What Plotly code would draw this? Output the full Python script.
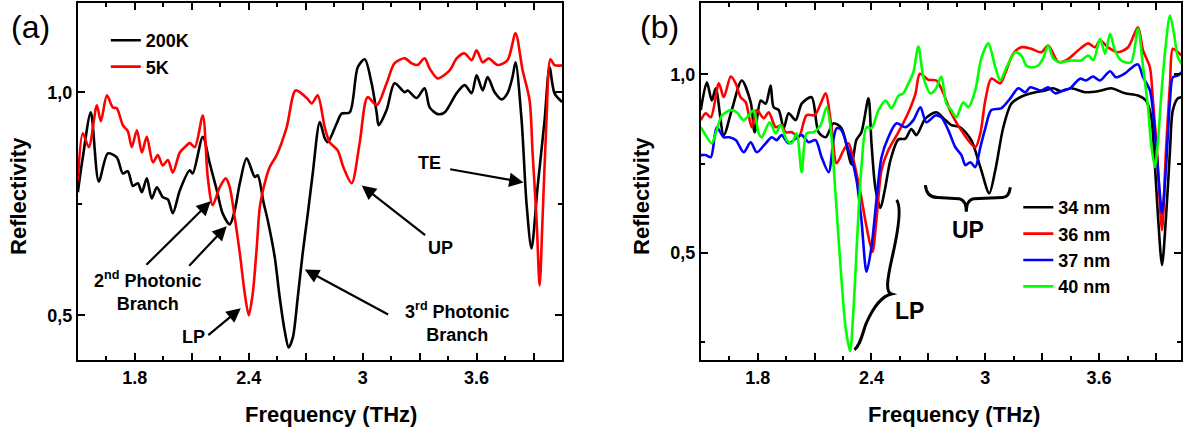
import numpy as np
import plotly.graph_objects as go

# ---------------- Panel (a) data ----------------
freq_a_200K = [1.50, 1.526, 1.568, 1.61, 1.658, 1.705, 1.737, 1.763, 1.79, 1.816, 1.837, 1.863, 1.889, 1.916,
               1.947, 1.974, 2.0, 2.037, 2.089, 2.105, 2.158, 2.195, 2.232, 2.263, 2.30, 2.326, 2.353, 2.389,
               2.432, 2.447, 2.479, 2.50, 2.537, 2.563, 2.589, 2.61, 2.632, 2.658, 2.684, 2.711, 2.737, 2.774,
               2.80, 2.816, 2.863, 2.889, 2.932, 2.974, 3.011, 3.047, 3.074, 3.084, 3.126, 3.168, 3.221, 3.237,
               3.284, 3.326, 3.353, 3.395, 3.432, 3.495, 3.537, 3.574, 3.60, 3.632, 3.658, 3.695, 3.732, 3.763,
               3.789, 3.805, 3.837, 3.863, 3.889, 3.921, 3.958, 3.984, 4.01, 4.05]
refl_a_200K = [0.776, 0.854, 0.955, 0.80, 0.863, 0.854, 0.818, 0.823, 0.79, 0.796, 0.776, 0.807, 0.762, 0.787,
               0.765, 0.76, 0.729, 0.78, 0.825, 0.818, 0.90, 0.84, 0.78, 0.728, 0.704, 0.735, 0.796, 0.852,
               0.81, 0.814, 0.751, 0.713, 0.63, 0.54, 0.466, 0.428, 0.45, 0.54, 0.639, 0.728, 0.818, 0.933,
               0.897, 0.888, 0.93, 0.952, 0.955, 1.056, 1.074, 1.02, 0.953, 0.926, 0.96, 1.02, 1.0, 1.004,
               0.987, 1.009, 0.966, 0.951, 0.955, 0.998, 1.016, 0.998, 1.038, 1.004, 1.034, 1.0, 0.984, 0.998,
               1.034, 1.067, 0.937, 0.75, 0.65, 0.787, 0.937, 1.056, 0.998, 0.978]

freq_a_5K = [1.50, 1.526, 1.558, 1.60, 1.621, 1.653, 1.684, 1.705, 1.737, 1.763, 1.784, 1.811, 1.837, 1.863,
             1.895, 1.921, 1.947, 1.974, 2.0, 2.037, 2.063, 2.089, 2.116, 2.158, 2.184, 2.21, 2.247, 2.279,
             2.30, 2.326, 2.353, 2.379, 2.40, 2.421, 2.442, 2.458, 2.484, 2.51, 2.547, 2.60, 2.647, 2.705,
             2.732, 2.763, 2.80, 2.826, 2.868, 2.90, 2.942, 2.984, 3.026, 3.074, 3.126, 3.168, 3.221, 3.258,
             3.289, 3.326, 3.353, 3.395, 3.458, 3.495, 3.537, 3.574, 3.60, 3.632, 3.663, 3.711, 3.763, 3.805,
             3.842, 3.879, 3.895, 3.916, 3.932, 3.947, 3.968, 3.989, 4.01, 4.05]
refl_a_5K = [0.80, 0.908, 0.877, 0.971, 0.935, 0.993, 0.966, 0.964, 0.926, 0.913, 0.877, 0.915, 0.865, 0.90,
             0.843, 0.859, 0.836, 0.848, 0.82, 0.865, 0.877, 0.886, 0.877, 0.948, 0.81, 0.747, 0.787, 0.807,
             0.787, 0.72, 0.639, 0.549, 0.50, 0.549, 0.652, 0.742, 0.796, 0.832, 0.859, 0.922, 1.004, 0.987,
             0.975, 0.993, 0.922, 0.888, 0.87, 0.83, 0.796, 0.886, 0.989, 0.971, 1.02, 1.065, 1.076, 1.065,
             1.061, 1.076, 1.053, 1.031, 1.049, 1.076, 1.087, 1.072, 1.094, 1.067, 1.076, 1.061, 1.072, 1.132,
             1.05, 0.982, 0.863, 0.713, 0.567, 0.713, 0.937, 1.074, 1.061, 1.06]

# ---------------- Panel (b) data ----------------
freq_b_34 = [1.50, 1.532, 1.558, 1.579, 1.621, 1.663, 1.716, 1.763, 1.784, 1.816, 1.842, 1.868, 1.884, 1.911,
             1.937, 1.963, 2.0, 2.032, 2.084, 2.121, 2.158, 2.20, 2.242, 2.295, 2.32, 2.347, 2.384, 2.40, 2.42,
             2.447, 2.47, 2.50, 2.542, 2.579, 2.61, 2.637, 2.684, 2.742, 2.789, 2.821, 2.868, 2.926, 2.974,
             3.021, 3.053, 3.095, 3.137, 3.184, 3.242, 3.316, 3.358, 3.40, 3.453, 3.526, 3.595, 3.663, 3.737,
             3.805, 3.847, 3.874, 3.895, 3.911, 3.932, 3.953, 3.974, 3.989, 4.016, 4.035]
refl_b_34 = [0.90, 0.978, 0.927, 0.961, 0.83, 0.90, 0.983, 0.922, 0.838, 0.927, 0.918, 0.969, 0.908, 0.90,
             0.849, 0.891, 0.872, 0.918, 0.936, 0.838, 0.824, 0.863, 0.849, 0.748, 0.816, 0.838, 0.933, 0.807,
             0.684, 0.626, 0.676, 0.76, 0.818, 0.82, 0.847, 0.83, 0.876, 0.894, 0.872, 0.858, 0.852, 0.816,
             0.74, 0.667, 0.732, 0.852, 0.918, 0.936, 0.947, 0.955, 0.961, 0.953, 0.961, 0.95, 0.953, 0.961,
             0.947, 0.941, 0.927, 0.885, 0.74, 0.60, 0.466, 0.60, 0.788, 0.90, 0.933, 0.936]

freq_b_36 = [1.50, 1.526, 1.553, 1.595, 1.621, 1.658, 1.684, 1.71, 1.737, 1.768, 1.795, 1.832, 1.858, 1.895,
             1.926, 1.947, 1.98, 2.016, 2.058, 2.10, 2.132, 2.158, 2.189, 2.216, 2.253, 2.279, 2.305, 2.342,
             2.374, 2.405, 2.426, 2.453, 2.489, 2.542, 2.595, 2.632, 2.655, 2.70, 2.742, 2.779, 2.821, 2.884,
             2.947, 2.974, 3.0, 3.032, 3.079, 3.105, 3.147, 3.19, 3.242, 3.295, 3.332, 3.384, 3.426, 3.489,
             3.542, 3.579, 3.605, 3.647, 3.70, 3.753, 3.805, 3.832, 3.868, 3.884, 3.905, 3.932, 3.953, 3.974,
             3.989, 4.016, 4.035]
refl_b_36 = [0.872, 0.891, 0.88, 0.975, 0.936, 0.994, 0.975, 0.936, 0.922, 0.852, 0.90, 0.877, 0.894, 0.852,
             0.858, 0.838, 0.838, 0.824, 0.886, 0.886, 0.918, 0.947, 0.852, 0.751, 0.788, 0.807, 0.76, 0.667,
             0.573, 0.503, 0.592, 0.732, 0.788, 0.838, 0.894, 0.946, 1.002, 0.985, 0.983, 0.947, 0.891, 0.835,
             0.796, 0.835, 0.927, 0.988, 0.975, 1.003, 1.058, 1.076, 1.072, 1.062, 1.081, 1.035, 1.039, 1.067,
             1.087, 1.076, 1.095, 1.076, 1.062, 1.076, 1.132, 1.067, 1.02, 0.927, 0.788, 0.564, 0.788, 0.975,
             1.072, 1.062, 1.053]

freq_b_37 = [1.50, 1.526, 1.553, 1.584, 1.621, 1.65, 1.684, 1.726, 1.763, 1.795, 1.842, 1.874, 1.90, 1.926,
             1.963, 2.0, 2.032, 2.068, 2.105, 2.137, 2.174, 2.20, 2.216, 2.24, 2.279, 2.295, 2.321, 2.347,
             2.374, 2.40, 2.426, 2.453, 2.489, 2.532, 2.579, 2.621, 2.658, 2.689, 2.737, 2.768, 2.805, 2.842,
             2.874, 2.895, 2.921, 2.947, 2.974, 3.0, 3.032, 3.084, 3.132, 3.174, 3.211, 3.237, 3.295, 3.332,
             3.368, 3.411, 3.447, 3.50, 3.532, 3.568, 3.605, 3.658, 3.689, 3.737, 3.768, 3.805, 3.832, 3.868,
             3.895, 3.916, 3.932, 3.953, 3.974, 3.989, 4.016, 4.035]
refl_b_37 = [0.774, 0.774, 0.768, 0.852, 0.824, 0.824, 0.816, 0.782, 0.81, 0.782, 0.807, 0.824, 0.816, 0.83,
             0.807, 0.82, 0.83, 0.81, 0.816, 0.768, 0.726, 0.82, 0.849, 0.845, 0.788, 0.765, 0.704, 0.592,
             0.447, 0.517, 0.648, 0.768, 0.824, 0.863, 0.852, 0.872, 0.908, 0.866, 0.885, 0.88, 0.844, 0.796,
             0.774, 0.746, 0.754, 0.74, 0.796, 0.849, 0.90, 0.905, 0.933, 0.961, 0.95, 0.964, 0.955, 0.964,
             0.947, 0.955, 0.961, 0.988, 0.983, 0.994, 0.983, 1.009, 0.992, 1.003, 1.017, 1.028, 0.992, 0.955,
             0.835, 0.695, 0.612, 0.74, 0.927, 0.992, 0.997, 1.006]

freq_b_40 = [1.50, 1.532, 1.558, 1.584, 1.611, 1.658, 1.689, 1.726, 1.753, 1.779, 1.805, 1.821, 1.863, 1.895,
             1.921, 1.953, 1.979, 2.005, 2.032, 2.058, 2.095, 2.132, 2.163, 2.184, 2.21, 2.237, 2.263, 2.287,
             2.305, 2.326, 2.347, 2.374, 2.40, 2.437, 2.474, 2.505, 2.542, 2.568, 2.595, 2.621, 2.647, 2.674,
             2.711, 2.74, 2.768, 2.795, 2.821, 2.847, 2.884, 2.911, 2.947, 2.979, 3.016, 3.053, 3.079, 3.11,
             3.158, 3.19, 3.216, 3.242, 3.279, 3.305, 3.332, 3.358, 3.395, 3.453, 3.505, 3.542, 3.57, 3.605,
             3.632, 3.658, 3.684, 3.716, 3.768, 3.805, 3.832, 3.858, 3.874, 3.895, 3.911, 3.926, 3.947, 3.974,
             3.995, 4.016, 4.035]
refl_b_40 = [0.852, 0.824, 0.807, 0.844, 0.885, 0.90, 0.894, 0.872, 0.885, 0.90, 0.835, 0.824, 0.866, 0.835,
             0.858, 0.816, 0.807, 0.835, 0.726, 0.835, 0.838, 0.858, 0.908, 0.852, 0.667, 0.46, 0.293, 0.225,
             0.341, 0.556, 0.74, 0.852, 0.849, 0.90, 0.927, 0.905, 0.94, 0.947, 0.975, 1.006, 1.078, 0.992,
             0.947, 0.96, 0.994, 0.918, 0.90, 0.88, 0.922, 0.908, 0.955, 1.045, 1.087, 1.02, 0.983, 1.017,
             1.062, 1.053, 1.025, 1.02, 1.025, 1.045, 1.081, 1.045, 1.034, 1.039, 1.039, 1.053, 1.04, 1.10,
             1.058, 1.114, 1.067, 1.039, 1.034, 1.128, 1.02, 0.908, 0.807, 0.74, 0.816, 0.927, 1.058, 1.165,
             1.114, 1.047, 1.03]

# tick labels
x_major = [1.5, 1.8, 2.1, 2.4, 2.7, 3.0, 3.3, 3.6, 3.9]
x_major_text = ["", "1.8", "", "2.4", "", "3", "", "3.6", ""]
x_minor = [1.65, 1.95, 2.25, 2.55, 2.85, 3.15, 3.45, 3.75]
y_major = [0.5, 1.0]
y_major_text = ["0,5", "1,0"]
y_minor = [0.25, 0.75]

FONT = "Liberation Sans, Arial, Helvetica, sans-serif"
W, H = 1183, 434

fig = go.Figure()
LW = 2.6
fig.add_trace(go.Scatter(x=freq_a_200K, y=refl_a_200K, mode="lines", name="200K",
                         line=dict(color="black", width=LW, shape="spline", smoothing=0.8),
                         xaxis="x", yaxis="y", legend="legend"))
fig.add_trace(go.Scatter(x=freq_a_5K, y=refl_a_5K, mode="lines", name="5K",
                         line=dict(color="#ff0000", width=LW, shape="spline", smoothing=0.8),
                         xaxis="x", yaxis="y", legend="legend"))
for fx, fy, nm, col in [(freq_b_34, refl_b_34, "34 nm", "black"),
                        (freq_b_36, refl_b_36, "36 nm", "#ff0000"),
                        (freq_b_37, refl_b_37, "37 nm", "#0000ff"),
                        (freq_b_40, refl_b_40, "40 nm", "#00ff00")]:
    fig.add_trace(go.Scatter(x=fx, y=fy, mode="lines", name=nm,
                             line=dict(color=col, width=LW, shape="spline", smoothing=0.8),
                             xaxis="x2", yaxis="y2", legend="legend2"))

tickfont = dict(family=FONT, size=18, color="black", weight="bold")

def xax(domain, rng, anchor):
    return dict(domain=domain, range=rng, anchor=anchor, showgrid=False, zeroline=False,
                showline=True, linecolor="black", linewidth=2, mirror="ticks",
                ticks="inside", ticklen=7, tickwidth=2, tickcolor="black",
                tickmode="array", tickvals=x_major, ticktext=x_major_text, tickfont=tickfont,
                minor=dict(tickmode="array", tickvals=x_minor, ticks="inside", ticklen=4,
                           tickwidth=2, tickcolor="black", showgrid=False))

def yax(domain, rng, anchor):
    return dict(domain=domain, range=rng, anchor=anchor, showgrid=False, zeroline=False,
                showline=True, linecolor="black", linewidth=2, mirror="ticks",
                ticks="inside", ticklen=7, tickwidth=2, tickcolor="black",
                tickmode="array", tickvals=y_major, ticktext=y_major_text, tickfont=tickfont,
                minor=dict(tickmode="array", tickvals=y_minor, ticks="inside", ticklen=4,
                           tickwidth=2, tickcolor="black", showgrid=False))

ydom = [1 - 360 / H, 1 - 3 / H]
fig.update_layout(
    width=W, height=H, margin=dict(l=0, r=0, t=0, b=0),
    paper_bgcolor="white", plot_bgcolor="white",
    font=dict(family=FONT, color="black"),
    xaxis=xax([78 / W, 563 / W], [1.5, 4.05], "y"),
    yaxis=yax(ydom, [0.4, 1.2], "x"),
    xaxis2=xax([702 / W, 1.0], [1.5, 4.032], "y2"),
    yaxis2=yax(ydom, [0.2, 1.2], "x2"),
    legend=dict(x=106 / W, y=1 - 22 / H, xanchor="left", yanchor="top",
                bgcolor="rgba(0,0,0,0)", borderwidth=0,
                font=dict(family=FONT, size=18, color="black", weight="bold"),
                itemwidth=30, tracegroupgap=0),
    legend2=dict(x=1020 / W, y=1 - 189 / H, xanchor="left", yanchor="top",
                 bgcolor="rgba(0,0,0,0)", borderwidth=0,
                 font=dict(family=FONT, size=18, color="black", weight="bold"),
                 itemwidth=30, tracegroupgap=0),
)

def pap(px, py):
    return px / W, 1 - py / H

anns = []
# panel labels
for txt, (px, py) in [("(a)", (31, 27)), ("(b)", (661, 27))]:
    xp, yp = pap(px, py)
    anns.append(dict(text=txt, x=xp, y=yp, xref="paper", yref="paper", showarrow=False,
                     xanchor="center", yanchor="middle",
                     font=dict(family=FONT, size=32, color="black")))
# axis titles
for txt, (px, py), ang in [("Frequency (THz)", (332, 414), 0), ("Frequency (THz)", (956, 414), 0),
                           ("Reflectivity", (18, 196), -90), ("Reflectivity", (642, 196), -90)]:
    xp, yp = pap(px, py)
    anns.append(dict(text=txt, x=xp, y=yp, xref="paper", yref="paper", showarrow=False,
                     xanchor="center", yanchor="middle", textangle=ang,
                     font=dict(family=FONT, size=22, color="black", weight="bold")))

# panel (a) annotation texts (data coordinates)
txt_font = dict(family=FONT, size=18, color="black", weight="bold")
for txt, x, y in [("TE", 3.353, 0.841), ("UP", 3.411, 0.652),
                  ("3<sup>rd</sup> Photonic<br>Branch", 3.50, 0.486),
                  ("2<sup>nd</sup> Photonic<br>Branch", 1.865, 0.555),
                  ("LP", 2.11, 0.451)]:
    anns.append(dict(text=txt, x=x, y=y, xref="x", yref="y", showarrow=False,
                     xanchor="center", yanchor="middle", align="center", font=txt_font))
# panel (a) arrows: (tail x, tail y, head x, head y)
for tx, ty, hx, hy in [(3.453, 0.828, 3.847, 0.798), (3.337, 0.677, 2.995, 0.791),
                       (3.142, 0.50, 2.695, 0.603), (1.853, 0.61, 2.20, 0.756),
                       (2.079, 0.608, 2.284, 0.70), (2.179, 0.453, 2.358, 0.516)]:
    anns.append(dict(text="", x=hx, y=hy, ax=tx, ay=ty, xref="x", yref="y", axref="x", ayref="y",
                     showarrow=True, arrowhead=2, arrowsize=1.3, arrowwidth=2.2, arrowcolor="black",
                     standoff=0, startstandoff=0))
# panel (b) texts
big_font = dict(family=FONT, size=23, color="black", weight="bold")
for txt, x, y in [("UP", 2.911, 0.564), ("LP", 2.60, 0.338)]:
    anns.append(dict(text=txt, x=x, y=y, xref="x2", yref="y2", showarrow=False,
                     xanchor="center", yanchor="middle", font=big_font))
fig.update_layout(annotations=anns)

# braces in panel (b)
brace_up = ("M 2.684,0.69 Q 2.69,0.655 2.75,0.655 L 2.86,0.652 Q 2.9,0.648 2.9,0.615 "
            "Q 2.9,0.648 2.94,0.652 L 3.09,0.655 Q 3.125,0.655 3.132,0.684")
brace_lp = ("M 2.532,0.648 C 2.56,0.63 2.54,0.56 2.51,0.49 C 2.48,0.42 2.475,0.39 2.505,0.385 "
            "C 2.46,0.38 2.41,0.35 2.37,0.30 C 2.35,0.27 2.34,0.24 2.31,0.229")
for p in (brace_up, brace_lp):
    fig.add_shape(type="path", path=p, xref="x2", yref="y2",
                  line=dict(color="black", width=3))

fig.write_html("out.html")
